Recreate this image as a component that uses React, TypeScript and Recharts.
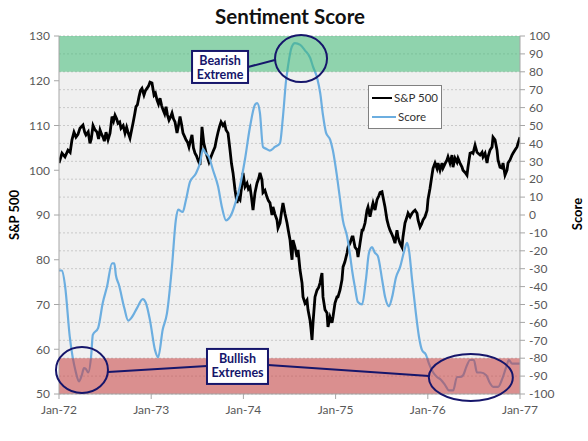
import React from "react";
import {
  ComposedChart,
  Line,
  XAxis,
  YAxis,
  CartesianGrid,
  ReferenceArea,
  ReferenceDot,
  ReferenceLine,
} from "recharts";

// months since Jan-72, weekly-ish closes read off the picture
const sp500: [number, number][] = [
  [0, 101.6], [0.39, 103.8], [0.78, 103], [1.17, 104.5], [1.45, 104], [1.69, 106.8], [1.95, 108.5], [2.21, 107.4],
  [2.47, 108], [2.73, 109.4], [3.12, 110.1], [3.35, 108.5], [3.51, 107.9], [3.8, 108.6], [4.03, 106], [4.2, 107],
  [4.43, 110], [4.7, 109], [4.95, 108.5], [5.15, 107], [5.34, 109], [5.55, 108], [5.73, 107.4], [5.9, 106.5],
  [6.12, 108.5], [6.38, 106.8], [6.64, 108.3], [6.9, 112], [7.1, 111], [7.29, 112.3], [7.5, 111.5], [7.68, 110.5],
  [7.9, 110.8], [8.07, 109.4], [8.35, 110], [8.59, 108.3], [8.8, 109.6], [8.98, 108.5], [9.24, 107.2], [9.45, 109],
  [9.63, 110.5], [9.85, 112.5], [10.02, 114.2], [10.2, 114.6], [10.41, 116.4], [10.6, 117.8], [10.8, 118.3], [11.06, 116.8],
  [11.25, 117.8], [11.45, 118.3], [11.65, 118.8], [11.84, 119.7], [12.1, 119.5], [12.25, 118], [12.37, 116.8], [12.55, 117.2],
  [12.76, 115.7], [12.95, 114.8], [13.15, 116.1], [13.35, 114.5], [13.54, 113.5], [13.75, 112.6], [13.93, 114.2], [14.1, 112.5],
  [14.32, 111.2], [14.5, 111.8], [14.71, 112.8], [14.9, 111.5], [15.1, 110.8], [15.36, 108.3], [15.55, 110], [15.75, 112],
  [15.95, 110.3], [16.14, 108.3], [16.35, 107.5], [16.53, 106.8], [16.75, 106.2], [16.92, 105.2], [17.1, 106.5], [17.31, 107.9],
  [17.5, 105], [17.7, 103.8], [17.9, 103.2], [18.09, 102.3], [18.35, 101.2], [18.48, 105], [18.61, 109.7], [18.85, 106],
  [19.13, 104], [19.3, 103], [19.52, 101.8], [19.78, 103], [20.05, 104.2], [20.3, 105.2], [20.5, 107], [20.7, 108.5],
  [20.9, 109.8], [21.09, 110.8], [21.35, 110], [21.55, 110.5], [21.74, 109], [22.0, 108.3], [22.26, 104.5], [22.45, 101.5],
  [22.65, 99.4], [22.91, 95.6], [23.17, 92.7], [23.3, 94], [23.56, 93.4], [23.75, 96], [23.95, 99.4], [24.21, 96.3],
  [24.47, 97.1], [24.65, 95.8], [24.86, 96.3], [25.05, 94], [25.25, 91.1], [25.51, 95], [25.77, 97.1], [26.0, 98.2],
  [26.16, 99.4], [26.42, 97.8], [26.55, 95], [26.8, 95.5], [27.07, 94], [27.25, 93.2], [27.46, 92.7], [27.72, 90],
  [27.85, 91.8], [28.1, 90.2], [28.37, 88.9], [28.5, 87.1], [28.76, 88.2], [28.95, 90.5], [29.15, 92.7], [29.4, 90.4],
  [29.68, 88.2], [29.85, 86.5], [30.07, 84.4], [30.2, 82], [30.33, 80], [30.46, 84.4], [30.72, 82.8], [30.98, 80.6],
  [31.11, 82.2], [31.37, 77.7], [31.63, 74.8], [31.76, 71.7], [32.02, 70.3], [32.28, 71], [32.41, 68.8], [32.67, 66.5],
  [32.8, 64.5], [32.93, 62.1], [33.06, 65.9], [33.2, 69], [33.32, 71.7], [33.58, 73.2], [33.8, 73.8], [33.97, 74.8],
  [34.1, 76], [34.23, 77], [34.36, 71.7], [34.62, 68.8], [34.88, 68.1], [35.01, 65], [35.27, 67.2], [35.53, 65.9],
  [35.66, 67.2], [35.92, 70.3], [36.18, 71.7], [36.31, 71.7], [36.57, 73.2], [36.83, 75.5], [36.97, 78.4], [37.2, 79.5],
  [37.49, 81.5], [37.62, 82.8], [37.88, 83.7], [38.14, 85.1], [38.27, 85.1], [38.53, 82.8], [38.79, 82.2], [38.92, 80.6],
  [39.18, 83.7], [39.44, 86.6], [39.57, 86.6], [39.83, 88.2], [40.09, 91.1], [40.22, 91.8], [40.48, 89.6], [40.74, 91.8],
  [40.87, 92.7], [41.13, 91.1], [41.39, 93.4], [41.6, 94.2], [41.78, 95], [42.04, 95.2], [42.17, 94], [42.43, 91.8],
  [42.69, 88.9], [42.9, 87.5], [43.08, 86.6], [43.3, 85.8], [43.47, 85.1], [43.73, 83.7], [43.99, 86.6], [44.12, 85.1],
  [44.38, 83.7], [44.64, 82.8], [44.77, 85.1], [45.03, 88.2], [45.3, 89.6], [45.43, 90.4], [45.69, 89.6], [45.95, 90.4],
  [46.15, 90.8], [46.34, 91.1], [46.6, 90.4], [46.73, 88.9], [46.99, 87.3], [47.2, 88], [47.38, 88.9], [47.64, 89.6],
  [47.9, 91], [48.03, 93.5], [48.29, 96], [48.55, 99], [48.68, 100.4], [48.94, 101.6], [49.2, 100.4], [49.33, 101.6],
  [49.59, 100], [49.85, 101.6], [49.98, 100.5], [50.25, 101.5], [50.5, 102.3], [50.63, 103], [50.89, 101.6], [51.15, 103.4],
  [51.28, 100.7], [51.54, 102.7], [51.8, 101.8], [51.93, 102.7], [52.19, 101.6], [52.45, 100.7], [52.58, 100], [52.85, 99.5],
  [53.1, 98.9], [53.23, 100.7], [53.5, 103.8], [53.76, 104], [53.89, 103.8], [54.15, 105.6], [54.41, 104], [54.54, 103.8],
  [54.8, 103.4], [55.06, 104], [55.19, 103], [55.45, 103.8], [55.71, 101.6], [55.84, 103], [56.1, 104.5], [56.36, 105.2],
  [56.49, 107.4], [56.75, 106.8], [57.01, 104.5], [57.14, 102.3], [57.4, 100.7], [57.66, 100.5], [57.79, 101.6], [58.05, 98.9],
  [58.31, 100], [58.44, 101.6], [58.7, 102.3], [58.96, 103.4], [59.09, 103.8], [59.35, 104.5], [59.61, 105.2], [59.74, 106],
  [60, 107.4],
];

const score: [number, number][] = [
  [0, -31], [0.4, -31], [0.8, -40], [1.4, -68], [2.2, -88], [2.6, -93], [3.0, -89], [3.25, -85.5],
  [3.5, -86], [3.8, -88], [4.2, -78], [4.4, -67], [5.1, -63], [5.7, -49], [6.25, -40], [6.9, -27],
  [7.2, -27], [7.4, -33.5], [7.8, -39], [8.5, -52], [9.0, -59], [9.5, -57], [10.15, -52], [10.9, -47],
  [11.3, -49], [11.85, -59], [12.5, -75.5], [12.9, -79.5], [13.5, -64], [14.05, -55], [14.7, -29], [15.2, -3],
  [15.5, 3], [16.1, 1.7], [16.5, 8], [17.05, 18.5], [17.8, 23], [18.35, 29], [18.75, 37], [19.0, 35],
  [19.5, 32.5], [20.05, 25], [20.7, 16], [21.2, 4.5], [21.75, -3], [22.1, -2], [22.5, 1], [23.05, 8],
  [23.55, 16], [24.2, 31], [24.85, 49], [25.5, 61.5], [25.8, 62.5], [26.15, 57], [26.55, 38], [26.95, 37],
  [27.45, 36], [28.1, 38], [28.75, 40], [29.15, 55], [29.55, 75], [29.8, 83], [30.3, 94], [30.7, 96],
  [31.4, 95], [32.0, 92], [32.7, 87.7], [33.05, 83], [33.6, 76.5], [34.0, 68], [34.35, 56], [34.75, 46],
  [35.3, 42], [35.65, 36], [36.2, 21], [36.6, 8], [36.95, -3], [37.5, -12], [37.9, -23], [38.15, -31],
  [38.5, -40], [38.9, -48.6], [39.45, -50], [39.95, -36], [40.35, -21], [40.75, -18], [41.1, -21], [41.5, -23],
  [42.05, -36], [42.45, -46], [42.95, -51], [43.35, -46], [43.85, -35], [44.4, -29], [44.9, -20.6], [45.3, -15.6],
  [45.55, -19.6], [45.95, -36], [46.45, -55], [46.85, -68], [47.25, -75.5], [47.75, -78], [48.15, -83], [48.7, -88],
  [49.2, -90.5], [49.7, -92], [50.25, -95], [50.75, -98], [51.3, -98], [51.8, -90.5], [52.2, -90.5], [52.6, -89.5],
  [53.0, -85], [53.5, -81], [54.0, -81], [54.4, -88], [54.9, -88], [55.6, -89.5], [56.1, -94], [56.5, -96],
  [57.15, -96], [57.65, -92], [58.2, -85], [58.55, -81], [58.95, -83], [59.5, -83], [60, -83],
];

const monthTicks = [0, 12, 24, 36, 48, 60];
const monthLabels = ["Jan-72", "Jan-73", "Jan-74", "Jan-75", "Jan-76", "Jan-77"];
const spTicks = [50, 60, 70, 80, 90, 100, 110, 120, 130];
const scoreTicks = [-100, -90, -80, -70, -60, -50, -40, -30, -20, -10, 0, 10, 20, 30, 40, 50, 60, 70, 80, 90, 100];

const NAVY = "#16166b";
const FONT = "Lato, 'Open Sans', sans-serif";

const spData = sp500.map(([m, v]) => ({ m, sp: v }));
const scoreData = score.map(([m, v]) => ({ m, score: v }));

const ellipse = (rx: number, ry: number) => (p: any) => (
  <ellipse cx={p.cx} cy={p.cy} rx={rx} ry={ry} fill="none" stroke={NAVY} strokeWidth={2} />
);

const noteBox = (w: number, h: number, lines: string[]) => (p: any) => (
  <g>
    <rect x={p.cx - w / 2} y={p.cy - h / 2} width={w} height={h} fill="#fff" stroke={NAVY} strokeWidth={2} />
    {lines.map((t, i) => (
      <text
        key={t}
        x={p.cx}
        y={p.cy - h / 2 + 14 + i * 14}
        textAnchor="middle"
        fill={NAVY}
        fontSize={12.5}
        fontWeight={700}
        fontFamily={FONT}
      >
        {t}
      </text>
    ))}
  </g>
);

function LegendBox() {
  const row = (color: string, label: string) => (
    <div style={{ display: "flex", alignItems: "center", height: 19, whiteSpace: "nowrap" }}>
      <span style={{ display: "inline-block", width: 24, height: 0, borderTop: `2.5px solid ${color}`, marginRight: 2 }} />
      <span>{label}</span>
    </div>
  );
  return (
    <div
      style={{
        position: "absolute",
        left: 368,
        top: 85,
        width: 74,
        boxSizing: "border-box",
        border: "1px solid #808080",
        background: "#fff",
        padding: "2px 3px",
        fontFamily: FONT,
        fontSize: 11.5,
        color: "#333",
      }}
    >
      {row("#000", "S&P 500")}
      {row("#6caee0", "Score")}
    </div>
  );
}

export default function App() {
  const tickStyle = { fill: "#595959", fontSize: 12, fontFamily: FONT };
  return (
    <div style={{ position: "absolute", left: 0, top: 0, width: 588, height: 441, background: "#fff" }}>
      <div
        style={{
          position: "absolute",
          top: 3,
          left: 0,
          width: 580,
          textAlign: "center",
          fontFamily: FONT,
          fontWeight: 700,
          fontSize: 20.5,
          color: "#111",
          lineHeight: "26px",
        }}
      >
        Sentiment Score
      </div>
      <div
        style={{
          position: "absolute",
          left: 14,
          top: 215,
          transform: "translate(-50%, -50%) rotate(-90deg)",
          fontFamily: FONT,
          fontWeight: 700,
          fontSize: 13,
          whiteSpace: "nowrap",
        }}
      >
        S&amp;P 500
      </div>
      <div
        style={{
          position: "absolute",
          left: 577,
          top: 214,
          transform: "translate(-50%, -50%) rotate(-90deg)",
          fontFamily: FONT,
          fontWeight: 700,
          fontSize: 13,
          whiteSpace: "nowrap",
        }}
      >
        Score
      </div>
      <ComposedChart width={588} height={441} margin={{ top: 36, right: 0, bottom: 22, left: 0 }}>
        <CartesianGrid
          yAxisId="right"
          vertical={false}
          horizontal={true}
          fill="#f0f0f0"
          stroke="#c9c9c9"
          strokeDasharray="2 2"
        />
        <XAxis
          dataKey="m"
          type="number"
          domain={[0, 60]}
          ticks={monthTicks}
          tickFormatter={(v: number) => monthLabels[monthTicks.indexOf(v)]}
          height={25}
          tick={tickStyle}
          tickSize={5}
          tickMargin={6}
          stroke="#a6a6a6"
          allowDataOverflow
        />
        <YAxis
          yAxisId="left"
          domain={[50, 130]}
          ticks={spTicks}
          width={59}
          tick={tickStyle}
          tickSize={5}
          tickMargin={4}
          stroke="#a6a6a6"
          allowDataOverflow
        />
        <YAxis
          yAxisId="right"
          orientation="right"
          domain={[-100, 100]}
          ticks={scoreTicks}
          interval={0}
          width={68}
          tick={tickStyle}
          tickSize={5}
          tickMargin={4}
          stroke="#a6a6a6"
          allowDataOverflow
        />
        <Line
          yAxisId="left"
          data={spData}
          dataKey="sp"
          type="linear"
          stroke="#000"
          strokeWidth={2.8}
          dot={false}
          name="S&P 500"
          isAnimationActive={false}
        />
        <Line
          yAxisId="right"
          data={scoreData}
          dataKey="score"
          type="monotone"
          stroke="#6caee0"
          strokeWidth={2.2}
          dot={false}
          name="Score"
          isAnimationActive={false}
        />
        <ReferenceArea yAxisId="right" y1={80} y2={100} fill="#40bb76" fillOpacity={0.55} stroke="none" zIndex={450} />
        <ReferenceArea yAxisId="right" y1={-100} y2={-80} fill="#c84040" fillOpacity={0.55} stroke="none" zIndex={450} />

        <ReferenceLine yAxisId="right" segment={[{ x: 24.6, y: 82.7 }, { x: 28.1, y: 86.6 }]} stroke={NAVY} strokeWidth={2} zIndex={700} />
        <ReferenceLine yAxisId="right" segment={[{ x: 6.38, y: -87.7 }, { x: 19.26, y: -84.4 }]} stroke={NAVY} strokeWidth={2} zIndex={700} />
        <ReferenceLine yAxisId="right" segment={[{ x: 27.2, y: -83.8 }, { x: 48.16, y: -89.9 }]} stroke={NAVY} strokeWidth={2} zIndex={700} />

        <ReferenceDot yAxisId="right" x={31.5} y={87.4} shape={ellipse(26, 23.5)} zIndex={700} />
        <ReferenceDot yAxisId="right" x={2.99} y={-86.6} shape={ellipse(26, 23)} zIndex={700} />
        <ReferenceDot yAxisId="right" x={53.6} y={-90.8} shape={ellipse(42, 23.5)} zIndex={700} />
        <ReferenceDot yAxisId="right" x={20.96} y={82.7} shape={noteBox(56, 32, ["Bearish", "Extreme"])} zIndex={750} />
        <ReferenceDot yAxisId="right" x={23.23} y={-84.6} shape={noteBox(61, 35, ["Bullish", "Extremes"])} zIndex={750} />
      </ComposedChart>
      <LegendBox />
    </div>
  );
}
